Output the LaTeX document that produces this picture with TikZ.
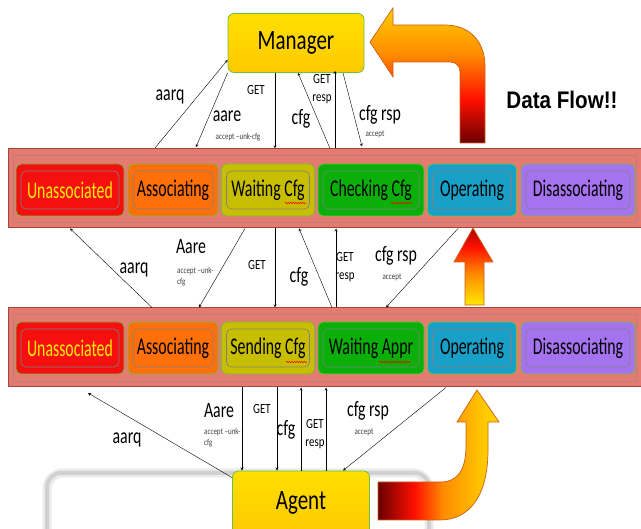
\documentclass[tikz,border=0pt]{standalone}
\usepackage{fontspec}
\setmainfont{Carlito}
\newfontfamily\flowfont{Liberation Sans}
\usepackage{graphicx}
\usetikzlibrary{decorations.pathmorphing}
\definecolor{barfill}{RGB}{229,122,112}
\definecolor{barline}{RGB}{160,72,62}
\definecolor{unassoc}{RGB}{245,15,15}
\definecolor{assoc}{RGB}{255,112,10}
\definecolor{waitcfg}{RGB}{200,190,0}
\definecolor{checkcfg}{RGB}{10,175,10}
\definecolor{operating}{RGB}{25,160,200}
\definecolor{disassoc}{RGB}{165,115,240}
\definecolor{gold}{RGB}{255,215,0}
\definecolor{rim}{RGB}{110,190,70}
\definecolor{textyellow}{RGB}{255,235,0}
\definecolor{flowdark}{RGB}{105,0,0}
\definecolor{flowred}{RGB}{255,15,0}
\definecolor{floworange}{RGB}{255,140,0}
\definecolor{flowyellow}{RGB}{255,205,0}
\definecolor{flowpale}{RGB}{255,232,0}
\definecolor{flowedge}{RGB}{205,95,20}
\pgfdeclareverticalshading{flowdown}{100bp}{color(0bp)=(flowdark); color(25bp)=(flowdark); color(41bp)=(flowred); color(58bp)=(floworange); color(75bp)=(flowyellow); color(100bp)=(flowyellow)}
\pgfdeclareverticalshading{flowup}{100bp}{color(0bp)=(flowpale); color(25bp)=(flowpale); color(45bp)=(floworange); color(63bp)=(flowred); color(75bp)=(flowdark!60!flowred); color(100bp)=(flowdark!60!flowred)}
\pgfdeclarehorizontalshading{flowright}{100bp}{color(0bp)=(flowdark); color(25bp)=(flowdark); color(40bp)=(flowred); color(52bp)=(floworange); color(70bp)=(flowyellow); color(100bp)=(flowyellow)}
\newcommand{\sq}[2][0.72]{\scalebox{#1}[1]{#2}}
\newcommand{\fs}[1]{\fontsize{#1}{#1}\selectfont}

\begin{document}
\begin{tikzpicture}[x=1pt,y=-1pt,>=stealth]
\tikzstyle{every node}=[inner sep=0pt]
\tikzstyle{state}=[rounded corners=5pt,draw=rim,line width=0.8pt,minimum height=52pt,font=\fs{24},
  path picture={\draw[black!50,line width=0.6pt] ([xshift=5pt,yshift=-7pt]path picture bounding box.north west) rectangle ([xshift=-5pt,yshift=7pt]path picture bounding box.south east);}]
\tikzstyle{bar}=[fill=barfill,draw=barline,line width=1pt,minimum width=633pt,minimum height=79pt,
  path picture={\draw[barline!70,line width=0.8pt] ([xshift=5pt,yshift=-6pt]path picture bounding box.north west) rectangle ([xshift=-5pt,yshift=6pt]path picture bounding box.south east);}]
\tikzstyle{boss}=[rounded corners=6pt,top color=gold!80!yellow,bottom color=gold!85!orange,draw=rim,line width=0.8pt,font=\fs{28}]
\tikzstyle{flow}=[draw=flowedge,line width=0.7pt]
\tikzstyle{typo}=[red,line width=0.5pt,decorate,decoration={snake,amplitude=0.7pt,segment length=2.5pt}]
\tikzstyle{big}=[font=\fs{22}]
\tikzstyle{small}=[font=\fontsize{14}{18}\selectfont,align=center]
\tikzstyle{tiny}=[font=\fontsize{9}{11}\selectfont,align=left,text=black!75]
\useasboundingbox (0,0) rectangle (641,529);

\node (topbar) [bar] at (324.5,188.5) {};
\node (botbar) [bar] at (324.5,347.5) {};

\node (u1) [state,fill=unassoc,text=textyellow,minimum width=108pt] at (70,190) {\sq[0.66]{Unassociated}};
\node (a1) [state,fill=assoc,minimum width=90pt] at (173,190) {\sq[0.66]{Associating}};
\node (w1) [state,fill=waitcfg,minimum width=93pt] at (268,190) {\sq[0.66]{Waiting Cfg}};
\node (c1) [state,fill=checkcfg,minimum width=106pt] at (371,190) {\sq[0.66]{Checking Cfg}};
\node (o1) [state,fill=operating,minimum width=89pt] at (472,190) {\sq[0.66]{Operating}};
\node (d1) [state,fill=disassoc,minimum width=114pt] at (578,190) {\sq[0.66]{Disassociating}};

\node (u2) [state,fill=unassoc,text=textyellow,minimum width=108pt] at (70,348) {\sq[0.66]{Unassociated}};
\node (a2) [state,fill=assoc,minimum width=90pt] at (173,348) {\sq[0.66]{Associating}};
\node (s2) [state,fill=waitcfg,minimum width=93pt] at (268,348) {\sq[0.66]{Sending Cfg}};
\node (w2) [state,fill=checkcfg,minimum width=106pt] at (371,348) {\sq[0.66]{Waiting Appr}};
\node (o2) [state,fill=operating,minimum width=89pt] at (472,348) {\sq[0.66]{Operating}};
\node (d2) [state,fill=disassoc,minimum width=114pt] at (578,348) {\sq[0.66]{Disassociating}};

% spell-check marks
\draw[typo] (285,203) -- (306,203);
\draw[typo] (391,203) -- (412,203);
\draw[typo] (286,362) -- (307,362);
\draw[typo] (379,362) -- (411,362);

\node (mgr) [boss,minimum width=136pt,minimum height=59pt] at (296,43) {\sq[0.75]{Manager}};

\draw[line width=9pt,black!8,rounded corners=16pt] (47,545) |- (429,473) -- (429,545);
\draw[line width=4pt,black!18,rounded corners=14pt] (47,545) |- (429,473) -- (429,545);
\node (agent) [boss,minimum width=137pt,minimum height=64pt] at (301,503) {\sq[0.75]{Agent}};

% data flow arrows
\shade[flow,shading=flowdown]
  (370,42) -- (393,8) -- (393,25) -- (445,25) .. controls (470,25) and (485,42) .. (485,66) -- (485,143)
  -- (460,143) -- (460,72) .. controls (460,66) and (456,62) .. (450,62) -- (393,62) -- (393,77) -- cycle;
\shade[flow,shading=flowup]
  (473,228) -- (493,262) -- (484,262) -- (484,305) -- (465,305) -- (465,262) -- (454,262) -- cycle;
\shade[flow,shading=flowright]
  (378,482) -- (440,482) .. controls (458,482) and (466,470) .. (466,445) -- (466,422) -- (457,422) -- (477,390)
  -- (499,422) -- (488,422) -- (488,450) .. controls (488,495) and (470,520) .. (440,520) -- (378,520) -- cycle;
\node (dataflow) at (562,100) {\flowfont\bfseries\fs{24}\sq[0.86]{Data Flow!!}};

% manager <-> top row
\coordinate (t1) at (155,148);
\coordinate (t2) at (196,147);
\draw [->] (t1) -- ([yshift=13pt]mgr.south west);
\draw [->] (mgr.south west) -- (t2);
\draw [->] (mgr.south -| 275,0) -- (topbar.north -| 275,0);
\draw [->] (topbar.north -| 330,0) -- (mgr.south -| 298,0);
\draw [->] (topbar.north -| 335,0) -- ([yshift=2pt]mgr.south -| 335,0);
\draw [->] (mgr.south -| 343,0) -- ([yshift=2pt]topbar.north -| 362,0);
\node (l1) [big] at (170,97) {\sq{aarq}};
\node (l2) [big] at (227,116) {\sq{aare}};
\node (l3) [tiny] at (238,137) {\sq[0.78]{accept –unk-cfg}};
\node (l4) [small] at (256,90) {\sq[0.78]{GET}};
\node (l5) [big] at (301,119) {\sq{cfg}};
\node (l6) [small] at (322,89) {\sq[0.78]{GET}\\\sq[0.78]{resp}};
\node (l7) [big] at (380,115) {\sq{cfg rsp}};
\node (l8) [tiny] at (375,134) {\sq[0.78]{accept}};

% top row <-> bottom row
\draw [->] (botbar.north -| 152,0) -- (topbar.south -| 70,0);
\draw [->] (topbar.south -| 245,0) -- (botbar.north -| 199,0);
\draw [->] (topbar.south -| 275,0) -- (botbar.north -| 275,0);
\draw [->] (botbar.north -| 332,0) -- (topbar.south -| 299,0);
\draw [->] (botbar.north -| 336,0) -- (topbar.south -| 336,0);
\draw [->] (topbar.south -| 458,0) -- (botbar.north -| 386,0);
\node (m1) [big] at (134,270) {\sq{aarq}};
\node (m2) [big] at (191,247) {\sq{Aare}};
\node (m3) [tiny,anchor=west] at (177,277) {\sq[0.78]{accept –unk-}\\\sq[0.78]{cfg}};
\node (m4) [small] at (257,265) {\sq[0.78]{GET}};
\node (m5) [big] at (299,277) {\sq{cfg}};
\node (m6) [small] at (345,267) {\sq[0.78]{GET}\\\sq[0.78]{resp}};
\node (m7) [big] at (396,256) {\sq{cfg rsp}};
\node (m8) [tiny] at (392,277) {\sq[0.78]{accept}};

% bottom row <-> agent
\coordinate (b1) at (88,393);
\draw [->] ([yshift=-7pt]agent.north west) -- (b1);
\draw [->] (botbar.south -| 242,0) -- (agent.north -| 242,0);
\draw [->] (botbar.south -| 277,0) -- (agent.north -| 277,0);
\draw [->] (agent.north -| 301,0) -- (botbar.south -| 301,0);
\draw [->] (agent.north -| 326,0) -- (botbar.south -| 326,0);
\draw [->] (botbar.south -| 446,0) -- (agent.north -| 343,0);
\node (n1) [big] at (127,440) {\sq{aarq}};
\node (n2) [big] at (219,411) {\sq{Aare}};
\node (n3) [tiny,anchor=west] at (204,438) {\sq[0.78]{accept –unk-}\\\sq[0.78]{cfg}};
\node (n4) [small] at (262,409) {\sq[0.78]{GET}};
\node (n5) [big] at (286,430) {\sq{cfg}};
\node (n6) [small] at (315,434) {\sq[0.78]{GET}\\\sq[0.78]{resp}};
\node (n7) [big] at (368,411) {\sq{cfg rsp}};
\node (n8) [tiny] at (364,432) {\sq[0.78]{accept}};
\end{tikzpicture}
\end{document}
